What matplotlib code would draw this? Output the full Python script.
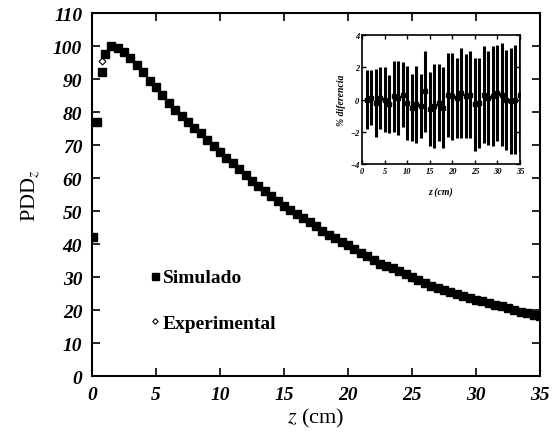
#!/usr/bin/env python
"""PDD curve, simulated vs experimental, with % difference inset."""

import matplotlib
matplotlib.use("Agg")
import matplotlib.pyplot as plt

# depth (cm) and percentage depth dose, simulated
sim_z = [0.1, 0.4, 0.75, 1.0, 1.5, 2.0, 2.5, 3.0, 3.5, 4.0, 4.5, 5.0, 5.5,
         6.0, 6.5, 7.0, 7.5, 8.0, 8.5, 9.0, 9.5, 10.0, 10.5, 11.0, 11.5,
         12.0, 12.5, 13.0, 13.5, 14.0, 14.5, 15.0, 15.5, 16.0, 16.5, 17.0,
         17.5, 18.0, 18.5, 19.0, 19.5, 20.0, 20.5, 21.0, 21.5, 22.0, 22.5,
         23.0, 23.5, 24.0, 24.5, 25.0, 25.5, 26.0, 26.5, 27.0, 27.5, 28.0,
         28.5, 29.0, 29.5, 30.0, 30.5, 31.0, 31.5, 32.0, 32.5, 33.0, 33.5,
         34.0, 34.5, 35.0]
sim_pdd = [42.0, 77.0, 92.0, 97.5, 100.0, 99.5, 98.3, 96.3, 94.2, 92.0, 89.5,
           87.5, 85.3, 82.8, 80.5, 78.8, 77.0, 75.2, 73.5, 71.5, 69.8, 68.0,
           66.2, 64.5, 62.8, 61.0, 59.2, 57.6, 56.0, 54.5, 53.0, 51.6, 50.3,
           49.2, 47.9, 46.7, 45.4, 44.0, 42.8, 41.8, 40.7, 39.6, 38.5, 37.4,
           36.4, 35.2, 34.0, 33.3, 32.6, 31.7, 30.8, 29.9, 29.0, 28.2, 27.4,
           26.8, 26.1, 25.5, 24.9, 24.3, 23.7, 23.1, 22.6, 22.1, 21.6, 21.1,
           20.5, 20.0, 19.5, 19.0, 18.6, 18.2]

# experimental points (mostly hidden under the simulated band)
exp_z = [0.75, 2.0, 5.0, 10.0, 15.0, 20.0, 25.0, 30.0, 35.0]
exp_pdd = [95.5, 99.4, 87.4, 68.1, 51.5, 39.7, 29.8, 23.0, 18.3]

# inset: % difference with error bars
diff_z = list(range(1, 36))
diff_pct = [0.0, 0.1, -0.2, 0.1, 0.0, -0.3, 0.2, 0.1, 0.3, -0.2, -0.5, -0.3,
            -0.4, 0.5, -0.6, -0.4, -0.2, -0.5, 0.3, 0.2, 0.1, 0.4, 0.2, 0.3,
            -0.3, -0.2, 0.3, 0.1, 0.2, 0.4, 0.3, 0.0, -0.1, 0.0, 0.3]
diff_err = [1.8, 1.7, 2.1, 1.9, 2.0, 1.8, 2.2, 2.3, 2.0, 2.3, 2.1, 2.4, 2.0,
            2.5, 2.3, 2.6, 2.4, 2.5, 2.6, 2.7, 2.5, 2.8, 2.6, 2.7, 2.9, 2.8,
            3.0, 2.9, 3.1, 3.0, 3.2, 3.1, 3.3, 3.4, 3.5]

plt.rcParams["font.family"] = ["Liberation Serif", "DejaVu Serif"]
plt.rcParams["mathtext.fontset"] = "stix"

tick_font = dict(family="Liberation Serif", weight="bold", style="italic")


def main() -> None:
    fig = plt.figure(figsize=(5.52, 4.39), dpi=100)
    ax = fig.add_axes([0.1667, 0.1412, 0.8116, 0.8269])

    ax.plot(exp_z, exp_pdd, linestyle="none", marker="D", markersize=3.5,
            markerfacecolor="white", markeredgecolor="black",
            markeredgewidth=0.8, label="Experimental", zorder=2)
    ax.plot(sim_z, sim_pdd, linestyle="none", marker="s", markersize=6.3,
            color="black", label="Simulado", zorder=3)

    ax.set_xlim(0, 35)
    ax.set_ylim(0, 110)
    ax.set_xticks(range(0, 36, 5))
    ax.set_yticks(range(0, 111, 10))
    ax.tick_params(direction="in", length=6, width=1.2, top=True, right=True,
                   pad=7)
    for lab in ax.get_xticklabels() + ax.get_yticklabels():
        lab.set(**tick_font, fontsize=14)
    for sp in ax.spines.values():
        sp.set_linewidth(1.5)

    ax.set_xlabel(r"$z$ (cm)", fontsize=16, labelpad=2)
    ax.set_ylabel(r"PDD$_z$", fontsize=16, labelpad=8)

    handles, labels = ax.get_legend_handles_labels()
    ax.legend(handles[::-1], labels[::-1], loc="center left",
              bbox_to_anchor=(0.13, 0.208), frameon=False,
              prop=dict(family="Liberation Serif", weight="bold", size=14),
              handlelength=0.5, handletextpad=0.15, labelspacing=1.45,
              borderpad=0, borderaxespad=0, markerscale=0.8)

    # inset
    ins = fig.add_axes([0.656, 0.624, 0.286, 0.294])
    ins.errorbar(diff_z, diff_pct, yerr=diff_err, fmt="s", markersize=2.5,
                 color="black", elinewidth=2.2, capsize=0)
    ins.set_xlim(0, 35)
    ins.set_ylim(-4, 4)
    ins.set_xticks(range(0, 36, 5))
    ins.set_yticks([-4, -2, 0, 2, 4])
    ins.tick_params(direction="in", length=3, width=1, top=True, right=True,
                    pad=2)
    for lab in ins.get_xticklabels() + ins.get_yticklabels():
        lab.set(**tick_font, fontsize=6)
    for sp in ins.spines.values():
        sp.set_linewidth(1.2)
    ins.set_xlabel(r"z (cm)", fontsize=7, fontweight="bold", style="italic",
                   labelpad=8)
    ins.set_ylabel("% diferencia", fontsize=7, fontweight="bold",
                   style="italic", labelpad=3)

    fig.savefig("out.png", dpi=100)
    plt.close(fig)


if __name__ == "__main__":
    main()
